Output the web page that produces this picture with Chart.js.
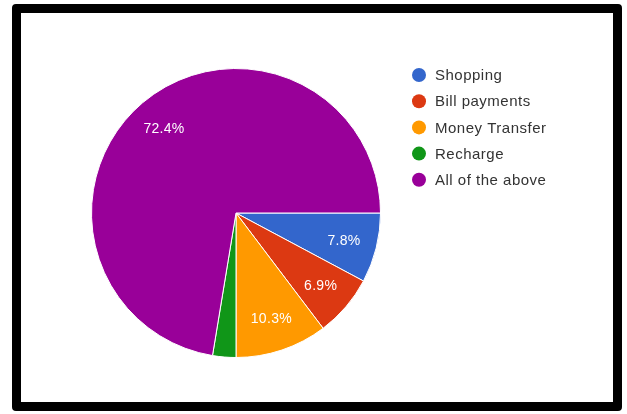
<!DOCTYPE html>
<html>
<head>
<meta charset="utf-8">
<script src="https://cdn.jsdelivr.net/npm/chart.js@4/dist/chart.umd.min.js"></script>
<style>
  html, body { margin: 0; padding: 0; background: #fff; }
  .frame {
    position: absolute;
    left: 12px; top: 4px;
    width: 610px; height: 407px;
    box-sizing: border-box;
    border: 9px solid #000;
    border-radius: 4px;
    background: #fff;
  }
  #chart { position: absolute; left: 0; top: 0; }
</style>
</head>
<body>
<div class="frame"></div>
<canvas id="chart" width="627" height="414"></canvas>
<script>
// Survey answers and their share of responses (%)
const categories = ["Shopping", "Bill payments", "Money Transfer", "Recharge", "All of the above"];
const shares = [7.8, 6.9, 10.3, 2.6, 72.4];
const sliceColors = ["#3366cc", "#dc3912", "#ff9900", "#109618", "#990099"];

const FONT = "'Liberation Sans', Arial, sans-serif";

// Percent labels inside each slice (small slices get none)
const sliceLabels = {
  id: "sliceLabels",
  afterDatasetsDraw(chart) {
    const ctx = chart.ctx;
    const meta = chart.getDatasetMeta(0);
    const total = shares.reduce((a, b) => a + b, 0);
    ctx.save();
    ctx.fillStyle = "#ffffff";
    ctx.font = "14px " + FONT;
    ctx.letterSpacing = "0.3px";
    ctx.textAlign = "center";
    ctx.textBaseline = "middle";
    meta.data.forEach((arc, i) => {
      const pct = shares[i] / total * 100;
      if (pct < 5) return;
      const mid = (arc.startAngle + arc.endAngle) / 2;
      const r = arc.outerRadius * 0.77;
      ctx.fillText(pct.toFixed(1) + "%", arc.x + Math.cos(mid) * r, arc.y + Math.sin(mid) * r + 1);
    });
    ctx.restore();
  }
};

// Legend on the right: dot + label per row
const dotLegend = {
  id: "dotLegend",
  afterDraw(chart) {
    const ctx = chart.ctx;
    const x0 = 419, y0 = 75, step = 26.2;
    ctx.save();
    ctx.font = "15px " + FONT;
    ctx.letterSpacing = "0.5px";
    ctx.textBaseline = "middle";
    categories.forEach((name, i) => {
      const y = y0 + i * step;
      ctx.beginPath();
      ctx.arc(x0, y, 7, 0, Math.PI * 2);
      ctx.fillStyle = sliceColors[i];
      ctx.fill();
      ctx.fillStyle = "#333333";
      ctx.fillText(name, x0 + 16, y + 1);
    });
    ctx.restore();
  }
};

new Chart(document.getElementById("chart"), {
  type: "pie",
  data: {
    labels: categories,
    datasets: [{
      data: shares,
      backgroundColor: sliceColors,
      borderColor: "#ffffff",
      borderWidth: 1
    }]
  },
  options: {
    responsive: false,
    animation: false,
    rotation: 90,
    layout: { padding: { left: 91, top: 68, right: 246, bottom: 56 } },
    plugins: {
      legend: { display: false },
      tooltip: { enabled: false }
    }
  },
  plugins: [sliceLabels, dotLegend]
});
</script>
</body>
</html>
